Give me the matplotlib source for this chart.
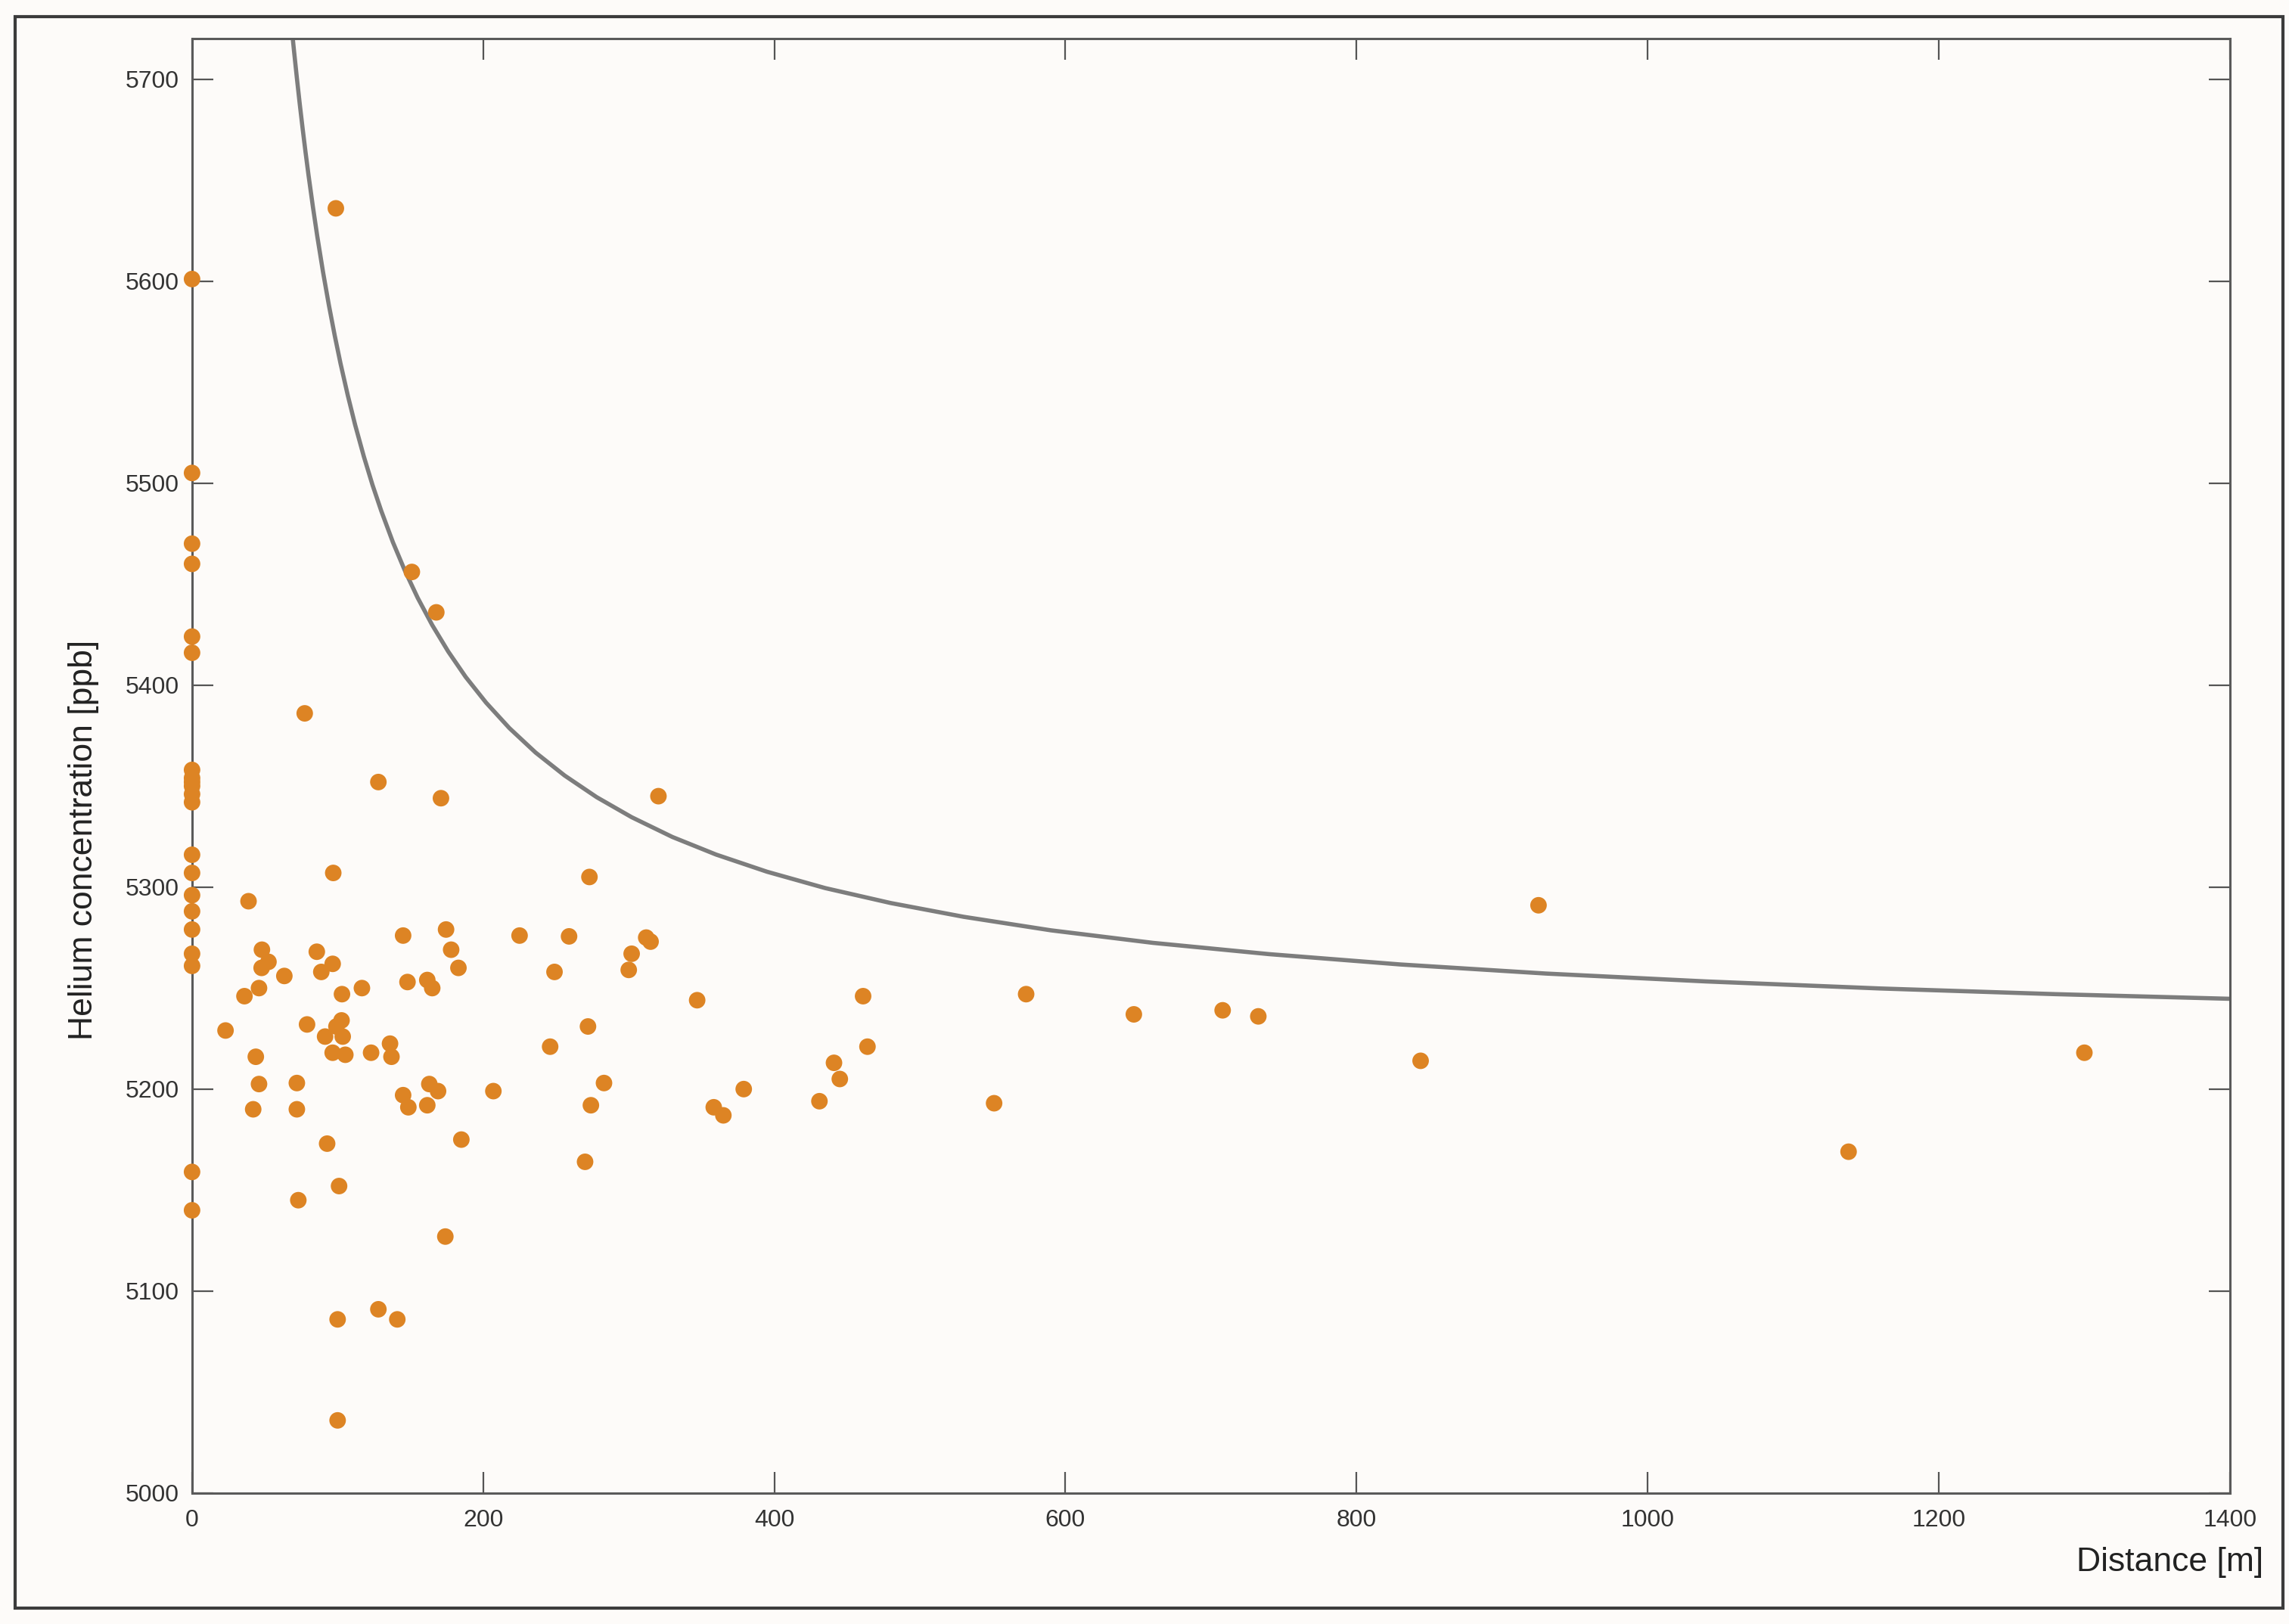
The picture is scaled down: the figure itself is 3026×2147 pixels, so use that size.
import matplotlib
matplotlib.use("Agg")
import matplotlib.pyplot as plt
from matplotlib.patches import Rectangle

plt.rcParams['font.family'] = ['Liberation Sans', 'DejaVu Sans']

# Puntos medidos: distancia [m] y concentración de helio [ppb]
dist = [0, 0, 0, 0, 0, 0, 0, 0, 0, 0, 0, 0, 0, 0, 0, 0, 0, 0, 0, 0, 0,
        98.8, 151, 167.8, 77.4, 128, 171, 320.4, 273, 97, 38.8, 925,
        145, 174.5, 225, 259, 312, 315, 178, 183, 85.7, 48, 52.5, 47.8,
        63.4, 96.6, 88.8, 116.7, 148, 161.6, 165, 302, 300, 249, 36, 46,
        103, 347, 461, 573, 647, 708, 732.5, 1300, 844, 23, 79, 43.8,
        102.7, 99.2, 91.4, 103.5, 96.6, 105.3, 123, 136, 137, 272, 246,
        441, 464, 445, 431, 551, 379, 358.4, 365, 283, 274, 207, 169,
        163, 161.6, 145, 148.6, 46, 42, 72, 72, 92.8, 185, 270, 1138,
        73, 101, 174, 128, 141, 100, 100]
helium = [5601, 5505, 5470, 5460, 5424, 5416, 5358, 5354, 5350, 5346, 5342,
          5316, 5307, 5296, 5288, 5279, 5267, 5261, 5159, 5140, 5352,
          5636, 5456, 5436, 5386, 5352, 5344, 5345, 5305, 5307, 5293, 5291,
          5276, 5279, 5276, 5275.6, 5275, 5273, 5269, 5260, 5268, 5269, 5263, 5260,
          5256, 5262, 5258, 5250, 5253, 5254, 5250, 5267, 5259, 5258, 5246, 5250,
          5247, 5244, 5246, 5247, 5237, 5239, 5236, 5218, 5214, 5229, 5232, 5216,
          5234, 5231, 5226, 5226, 5218, 5217, 5218, 5222.5, 5216, 5231, 5221,
          5213, 5221, 5205, 5194, 5193, 5200, 5191, 5187, 5203, 5192, 5199, 5199,
          5202.5, 5192, 5197, 5191, 5202.5, 5190, 5203, 5190, 5173, 5175, 5164, 5169,
          5145, 5152, 5127, 5091, 5086, 5086, 5036]

# Curva límite
curve_x = [68, 69, 70, 72, 74, 76, 78, 80, 83, 86, 90, 94, 98, 102, 107, 112,
           118, 124, 130, 138, 146, 155, 165, 176, 188, 202, 218, 236, 256,
           278, 302, 330, 360, 395, 435, 480, 530, 590, 660, 740, 830, 930,
           1040, 1160, 1280, 1400]
curve_y = [5728.8, 5721.4, 5714.3, 5700.6, 5687.6, 5675.3, 5663.6, 5652.5,
           5636.9, 5622.3, 5604.4, 5588.1, 5573.1, 5559.2, 5543.4, 5528.9,
           5513.2, 5499.0, 5486.2, 5470.7, 5457.0, 5443.2, 5429.7, 5416.6,
           5404.0, 5391.3, 5378.7, 5366.6, 5355.2, 5344.5, 5334.6, 5324.8,
           5316.1, 5307.6, 5299.5, 5292.1, 5285.3, 5278.6, 5272.4, 5266.8,
           5261.7, 5257.2, 5253.3, 5249.8, 5247.0, 5244.7]

x_ticks = [0, 200, 400, 600, 800, 1000, 1200, 1400]
y_ticks = [5000, 5100, 5200, 5300, 5400, 5500, 5600, 5700]

bg = '#fdfbf9'
fig = plt.figure(figsize=(15.13, 10.735), dpi=200, facecolor=bg)
ax = fig.add_axes([0.0839, 0.0806, 0.8903, 0.8956], facecolor=bg)

ax.plot(curve_x, curve_y, color='#7d7d7d', lw=2.0, zorder=2,
        solid_joinstyle='round')
ax.scatter(dist, helium, s=62, color='#dd8424', edgecolors='none',
           zorder=4, clip_on=False)

ax.set_xlim(0, 1400)
ax.set_ylim(5000, 5720)
ax.set_xticks(x_ticks)
ax.set_yticks(y_ticks)
ax.tick_params(direction='in', length=10, width=0.8, color='#555555',
               labelsize=11.5, labelcolor='#333333', top=True, right=True)
ax.tick_params(axis='x', pad=7.5)
ax.tick_params(axis='y', pad=6)
for sp in ax.spines.values():
    sp.set_color('#5a5a5a')
    sp.set_linewidth(1.1)

fig.text(0.9888, 0.038, "Distance [m]", ha='right', va='center',
         fontsize=16, color='#222222')
fig.text(0.0365, 0.483, "Helium concentration [ppb]", rotation=90,
         ha='center', va='center', fontsize=16, color='#222222')

# Marco exterior
fig.patches.append(Rectangle((0.0066, 0.0098), 0.9908, 0.98, fill=False,
                             lw=1.5, edgecolor='#3c3c3c',
                             transform=fig.transFigure))

fig.savefig("out.png", dpi=200, facecolor=bg)
